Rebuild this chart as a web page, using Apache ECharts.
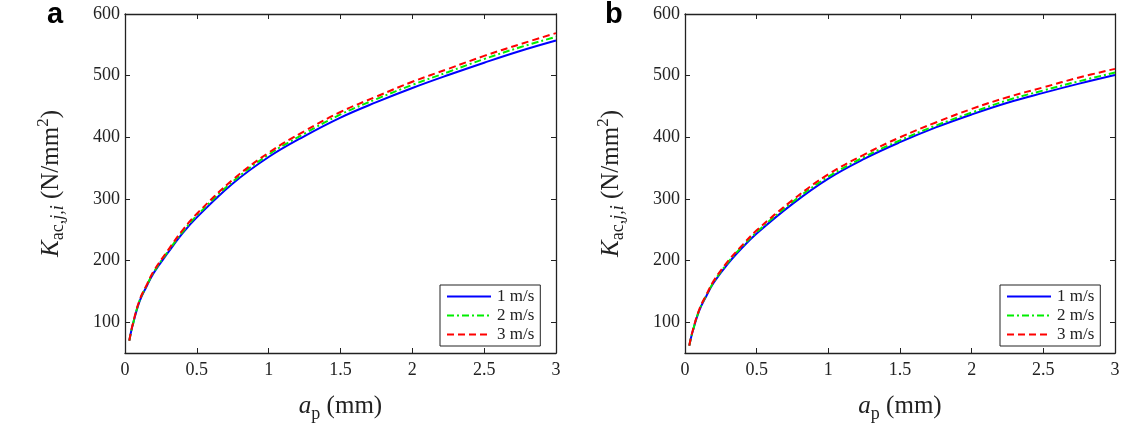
<!DOCTYPE html>
<html>
<head>
<meta charset="utf-8">
<script src="https://cdn.jsdelivr.net/npm/echarts@6/dist/echarts.min.js"></script>
<style>
html,body{margin:0;padding:0;background:#fff;}
#main{width:1123px;height:430px;}
</style>
</head>
<body>
<div id="main"></div>
<script>
// depth of cut a_p (mm)
var apValues = [0.03, 0.05, 0.1, 0.15, 0.2, 0.3, 0.4, 0.5, 0.75, 1, 1.25, 1.5, 1.75, 2, 2.25, 2.5, 2.75, 3];

// panel a
var a_1ms = [70, 92, 133, 158, 180, 213, 244, 270, 325, 368, 402, 432, 457, 480, 501, 521, 540, 557];
var a_2ms = [70, 92, 134, 159, 181, 215, 246, 273, 328, 372, 406, 437, 462, 485, 506, 527, 546, 563];
var a_3ms = [70, 93, 135, 160, 183, 217, 249, 276, 331, 375, 410, 441, 466, 490, 511, 532, 551, 569];

// panel b
var b_1ms = [62, 82, 119, 143, 164, 195, 221, 244, 292, 333, 365, 392, 416, 437, 456, 472, 487, 501];
var b_2ms = [62, 82, 120, 144, 165, 197, 223, 246, 295, 336, 368, 395, 419, 440, 460, 476, 491, 505];
var b_3ms = [62, 83, 121, 145, 167, 199, 225, 249, 298, 340, 372, 400, 424, 446, 465, 481, 497, 511];

var seriesNames = ['1 m/s', '2 m/s', '3 m/s'];
var xTicks = [0, 0.5, 1, 1.5, 2, 2.5, 3];
var yTicks = [100, 200, 300, 400, 500, 600];

var serif = '"Liberation Serif", "DejaVu Serif", serif';
var ink = '#222';

function pairs(vals) {
    return apValues.map(function (x, i) { return [x, vals[i]]; });
}

var lineStyles = [
    {color: '#0000ff', width: 2, type: 'solid'},
    {color: '#00ee00', width: 2, type: [7, 3, 2, 3]},
    {color: '#ff0000', width: 2, type: [7, 4]}
];

var myChart = echarts.init(document.getElementById('main'));

var yName = '{k|K}{s|ac,}{si|j,i}{n| (N/mm}{sup|2}{n|)}';
var yRich = {
    k: {fontFamily: serif, fontSize: 25, fontStyle: 'italic', color: ink},
    s: {fontFamily: serif, fontSize: 18, color: ink, padding: [14, 0, 0, 0]},
    si: {fontFamily: serif, fontSize: 18, fontStyle: 'italic', color: ink, padding: [14, 0, 0, 0]},
    n: {fontFamily: serif, fontSize: 25, color: ink},
    sup: {fontFamily: serif, fontSize: 17, color: ink, padding: [0, 0, 14, 0]}
};
var xName = '{a|a}{p|p}{n| (mm)}';
var xRich = {
    a: {fontFamily: serif, fontSize: 25, fontStyle: 'italic', color: ink},
    p: {fontFamily: serif, fontSize: 18, color: ink, padding: [16, 0, 0, 0]},
    n: {fontFamily: serif, fontSize: 25, color: ink}
};

var axisLine = {show: true, onZero: false, lineStyle: {color: ink, width: 1.3}};

function xAxes(gi) {
    return [{
        gridIndex: gi, type: 'value', position: 'bottom', min: 0, max: 3, interval: 0.5,
        axisLine: axisLine,
        axisTick: {inside: true, length: 5, lineStyle: {color: ink}},
        axisLabel: {fontFamily: serif, fontSize: 18, color: ink, margin: 8},
        splitLine: {show: false},
        name: xName, nameLocation: 'middle', nameGap: 36,
        nameTextStyle: {rich: xRich}
    }, {
        gridIndex: gi, type: 'value', position: 'top', min: 0, max: 3, interval: 0.5,
        axisLine: axisLine,
        axisTick: {inside: true, length: 5, lineStyle: {color: ink}},
        axisLabel: {show: false},
        splitLine: {show: false}
    }];
}

function yAxes(gi) {
    return [{
        gridIndex: gi, type: 'value', position: 'left', min: 50, max: 600,
        axisLine: axisLine,
        axisTick: {inside: true, length: 5, customValues: yTicks, lineStyle: {color: ink}},
        axisLabel: {fontFamily: serif, fontSize: 18, color: ink, margin: 5, customValues: yTicks},
        splitLine: {show: false},
        name: yName, nameLocation: 'middle', nameGap: 58,
        nameTextStyle: {rich: yRich}
    }, {
        gridIndex: gi, type: 'value', position: 'right', min: 50, max: 600,
        axisLine: axisLine,
        axisTick: {inside: true, length: 5, customValues: yTicks, lineStyle: {color: ink}},
        axisLabel: {show: false},
        splitLine: {show: false}
    }];
}

function makeSeries(gi, data) {
    return data.map(function (vals, i) {
        return {
            name: seriesNames[i],
            type: 'line',
            xAxisIndex: gi * 2,
            yAxisIndex: gi * 2,
            data: pairs(vals),
            smooth: 0.4,
            showSymbol: false,
            symbol: 'none',
            lineStyle: lineStyles[i],
            itemStyle: {color: lineStyles[i].color},
            animation: false
        };
    });
}

function legendAt(left) {
    return {
        data: seriesNames,
        orient: 'vertical',
        left: left, top: 285,
        backgroundColor: '#fff',
        borderColor: ink, borderWidth: 1, borderRadius: 0,
        padding: [3, 6, 3, 6],
        itemGap: 2,
        itemWidth: 44, itemHeight: 15,
        selectedMode: false,
        itemStyle: {color: 'rgba(0,0,0,0)', borderWidth: 0, opacity: 0},
        textStyle: {fontFamily: serif, fontSize: 17, color: ink, padding: [0, 0, 0, 1]}
    };
}

option = {
    backgroundColor: '#fff',
    animation: false,
    title: [
        {text: 'a', left: 42, top: -5, textStyle: {fontFamily: '"Liberation Sans", Arial, sans-serif', fontSize: 29, fontWeight: 'bold', color: '#000'}},
        {text: 'b', left: 600, top: -5, textStyle: {fontFamily: '"Liberation Sans", Arial, sans-serif', fontSize: 29, fontWeight: 'bold', color: '#000'}}
    ],
    grid: [
        {left: 125, right: 567, top: 14, bottom: 77},
        {left: 685, right: 8, top: 14, bottom: 77}
    ],
    legend: [legendAt(440), legendAt(1000)],
    xAxis: xAxes(0).concat(xAxes(1)),
    yAxis: yAxes(0).concat(yAxes(1)),
    series: makeSeries(0, [a_1ms, a_2ms, a_3ms]).concat(makeSeries(1, [b_1ms, b_2ms, b_3ms]))
};

myChart.setOption(option);
</script>
</body>
</html>
